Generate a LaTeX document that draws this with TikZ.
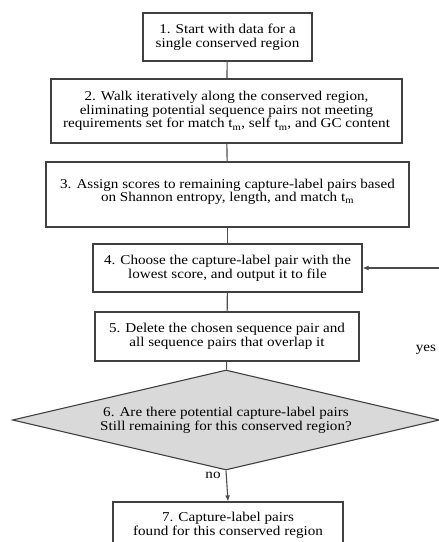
\documentclass[tikz,border=0pt]{standalone}
\usepackage{fontspec}
\setmainfont{Liberation Serif}[FakeStretch=1.12]
\usetikzlibrary{shapes.geometric,arrows.meta}
\begin{document}
\begin{tikzpicture}[x=1pt,y=-1pt,
  font=\fontsize{13.5}{13.6}\selectfont,
  box/.style={draw=black!75,line width=1.2pt,rectangle,inner sep=0pt,align=center},
  conn/.style={draw=black!70,line width=1.1pt},
  arr/.style={conn,-{Latex[length=6pt,width=5pt]}}]
\useasboundingbox (0,0) rectangle (439,542);
\node[box,minimum width=169pt,minimum height=48pt] (b1) at (227.5,37) {1. Start with data for a\\single conserved region};
\node[box,minimum width=351pt,minimum height=64pt] (b2) at (226.5,111) {2. Walk iteratively along the conserved region,\\eliminating potential sequence pairs not meeting\\requirements set for match t\textsubscript{m}, self t\textsubscript{m}, and GC content};
\node[box,minimum width=363pt,minimum height=65pt] (b3) at (227.5,194.5) {};
\node[align=center,inner sep=0pt,anchor=north] (t3) at (227.5,178.5) {3. Assign scores to remaining capture-label pairs based\\on Shannon entropy, length, and match t\textsubscript{m}};
\node[box,minimum width=269pt,minimum height=48pt] (b4) at (227.5,268) {4. Choose the capture-label pair with the\\lowest score, and output it to file};
\node[box,minimum width=264pt,minimum height=49pt] (b5) at (227,336.5) {5. Delete the chosen sequence pair and\\all sequence pairs that overlap it};
\node[diamond,shape aspect=4.27,draw=black!75,line width=1.1pt,fill=black!15,minimum width=427pt,minimum height=100pt,inner sep=0pt,align=center] (d6) at (226,420) {6. Are there potential capture-label pairs\\Still remaining for this conserved region?};
\node[box,minimum width=230pt,minimum height=46pt] (b7) at (228,525) {7. Capture-label pairs\\found for this conserved region};
\node[anchor=base] (yes) at (426,351) {yes};
\node[anchor=base] (no) at (213,478) {no};
\coordinate (c1) at (445,420);
\coordinate (c2) at (445,268);
\draw[conn] (b1) -- (b2);
\draw[conn] (b2) -- (b3);
\draw[conn] (b3) -- (b4);
\draw[conn] (b4) -- (b5);
\draw[conn] (b5) -- (d6);
\draw[arr] (d6.south) -- (b7.north);
\draw[arr] (d6.east) -- (c1) -- (c2) -- (b4.east);
\end{tikzpicture}
\end{document}
